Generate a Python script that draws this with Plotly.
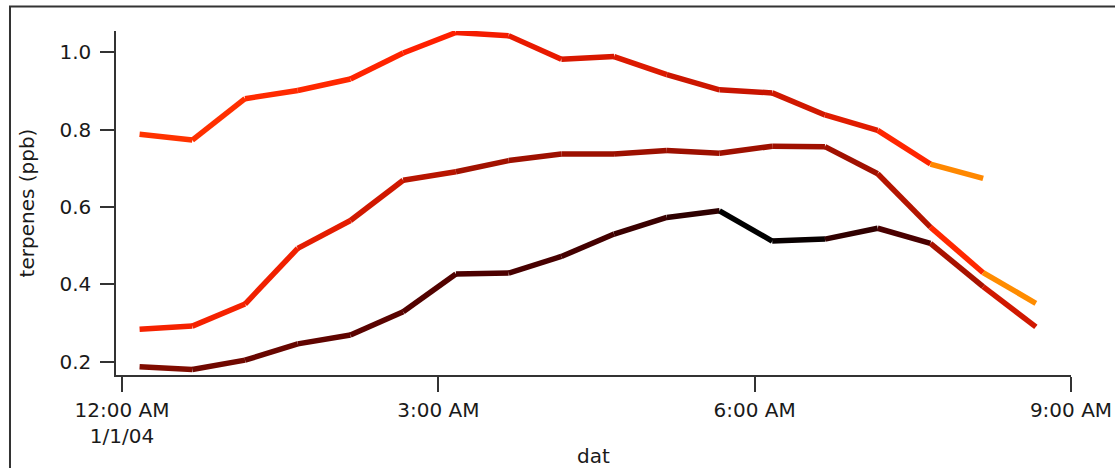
import plotly.graph_objects as go

# ---- data ----
times_top = ["2004-01-01 00:10", "2004-01-01 00:40", "2004-01-01 01:10", "2004-01-01 01:40",
             "2004-01-01 02:10", "2004-01-01 02:40", "2004-01-01 03:10", "2004-01-01 03:40",
             "2004-01-01 04:10", "2004-01-01 04:40", "2004-01-01 05:10", "2004-01-01 05:40",
             "2004-01-01 06:10", "2004-01-01 06:40", "2004-01-01 07:10", "2004-01-01 07:40",
             "2004-01-01 08:10"]
times_full = times_top + ["2004-01-01 08:40"]

terp_top = [0.788, 0.773, 0.880, 0.901, 0.931, 0.998, 1.051, 1.043, 0.982, 0.989,
            0.942, 0.903, 0.895, 0.838, 0.798, 0.711, 0.674]
terp_mid = [0.284, 0.292, 0.349, 0.493, 0.565, 0.669, 0.691, 0.720, 0.737, 0.737,
            0.746, 0.739, 0.757, 0.756, 0.686, 0.548, 0.430, 0.351]
terp_low = [0.187, 0.180, 0.204, 0.246, 0.269, 0.329, 0.427, 0.429, 0.472, 0.530,
            0.573, 0.590, 0.512, 0.517, 0.545, 0.506, 0.394, 0.290]

# segment colours (colour of each segment, from point i to i+1)
colors_top = ["#ff3300", "#ff3000", "#ff2a00", "#ff2800", "#ff2400", "#ff2000", "#f41c00", "#e81a00",
              "#d81800", "#dc1a00", "#cc1600", "#c81400", "#d01800", "#e01c00", "#ff2600", "#ff8800"]
colors_mid = ["#f52200", "#f52200", "#f02000", "#e41c00", "#d01800", "#b81500", "#a21200", "#9e1000",
              "#9c1000", "#9c1000", "#9c1000", "#9e1000", "#a01000", "#a01000", "#b41400", "#ff2800",
              "#ff8c00"]
colors_low = ["#800c00", "#700800", "#680600", "#600400", "#5a0300", "#520200", "#4c0000", "#480000",
              "#440000", "#3a0000", "#2e0000", "#000000", "#080000", "#300000", "#4a0000", "#a81200",
              "#d01800"]

x_tickvals = ["2004-01-01 00:00", "2004-01-01 03:00", "2004-01-01 06:00", "2004-01-01 09:00"]
x_ticktext = ["12:00 AM<br>1/1/04", "3:00 AM", "6:00 AM", "9:00 AM"]
y_tickvals = [0.2, 0.4, 0.6, 0.8, 1.0]

fig = go.Figure()

for xs, ys, cols in [(times_top, terp_top, colors_top),
                     (times_full, terp_mid, colors_mid),
                     (times_full, terp_low, colors_low)]:
    for i, c in enumerate(cols):
        fig.add_trace(go.Scatter(
            x=xs[i:i + 2], y=ys[i:i + 2], mode="lines",
            line=dict(color=c, width=5.5), showlegend=False, hoverinfo="skip"))

font = dict(family="DejaVu Sans", size=20, color="#1a1a1a")
axis_col = "#333333"

fig.update_layout(
    width=1115, height=468,
    margin=dict(l=116, r=44, t=31, b=93),
    paper_bgcolor="white", plot_bgcolor="white",
    font=font,
    showlegend=False,
    xaxis=dict(
        type="date",
        range=["2003-12-31 23:56:35", "2004-01-01 09:00:00"],
        tickvals=x_tickvals, ticktext=x_ticktext,
        showgrid=False, zeroline=False, automargin=False,
        showline=True, linecolor=axis_col, linewidth=1.5,
        ticks="outside", ticklen=15, tickwidth=1.5, tickcolor=axis_col,
        ticklabelstandoff=1,
        title=dict(text="dat", font=font, standoff=6),
    ),
    yaxis=dict(
        range=[0.1656, 1.055],
        tickvals=y_tickvals, tickformat=".1f",
        showgrid=False, zeroline=False, automargin=False,
        showline=True, linecolor=axis_col, linewidth=1.5,
        ticks="outside", ticklen=14, tickwidth=1.5, tickcolor=axis_col,
        ticklabelstandoff=5,
        title=dict(text="terpenes (ppb)", font=font, standoff=19),
    ),
    shapes=[dict(type="rect", xref="paper", yref="paper",
                 x0=-0.111, x1=1.06, y0=-0.5, y1=1.071,
                 line=dict(color="#333333", width=2), fillcolor="rgba(0,0,0,0)",
                 layer="below")],
)

fig.write_html("out.html")
